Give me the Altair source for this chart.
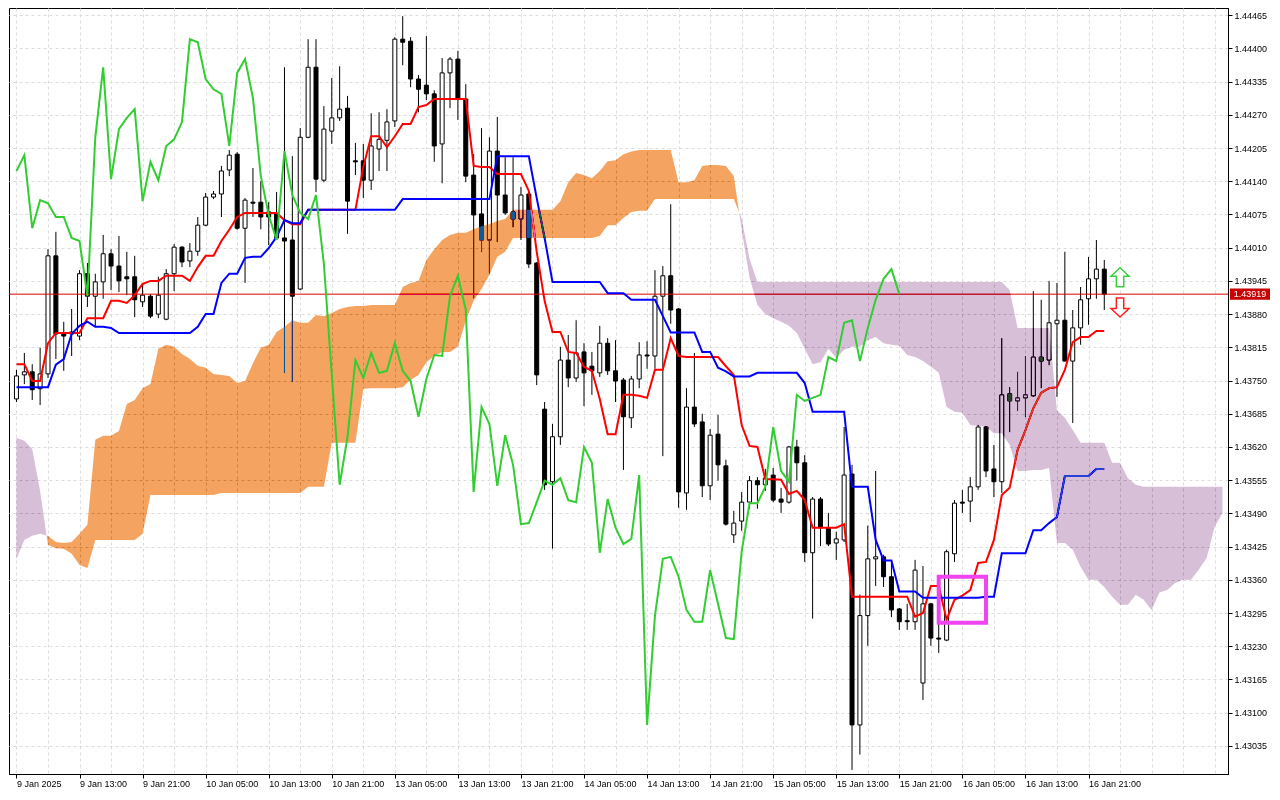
import json
import altair as alt
import pandas as pd

# ---------------- data (H1 bars) ----------------
DATE_LABELS = ["9 Jan 2025", "9 Jan 13:00", "9 Jan 21:00", "10 Jan 05:00", "10 Jan 13:00",
               "10 Jan 21:00", "13 Jan 05:00", "13 Jan 13:00", "13 Jan 21:00", "14 Jan 05:00",
               "14 Jan 13:00", "14 Jan 21:00", "15 Jan 05:00", "15 Jan 13:00", "15 Jan 21:00",
               "16 Jan 05:00", "16 Jan 13:00", "16 Jan 21:00"]

OPEN = [1.43714, 1.43761, 1.43767, 1.43734, 1.43763, 1.43994, 1.43843, 1.43841, 1.43837, 1.43959,
        1.43915, 1.43943, 1.43998, 1.43974, 1.43953, 1.43953, 1.43904, 1.43915, 1.43880, 1.43870,
        1.43959, 1.44011, 1.43984, 1.44003, 1.44054, 1.44109, 1.44115, 1.44162, 1.44193, 1.44048,
        1.44099, 1.44099, 1.44080, 1.44076, 1.44029, 1.44025, 1.43929, 1.44226, 1.44363, 1.44142,
        1.44238, 1.44264, 1.44283, 1.44180, 1.44180, 1.44142, 1.44203, 1.44220, 1.44258, 1.44418,
        1.44414, 1.44340, 1.44328, 1.44311, 1.44213, 1.44352, 1.44379, 1.44301, 1.44152, 1.44076,
        1.44025, 1.44199, 1.44113, 1.44080, 1.44066, 1.44115, 1.43980, 1.43694, 1.43552, 1.43640,
        1.43790, 1.43755, 1.43806, 1.43778, 1.43765, 1.43823, 1.43769, 1.43751, 1.43677, 1.43753,
        1.43800, 1.43798, 1.43915, 1.43955, 1.43890, 1.43530, 1.43698, 1.43669, 1.43544, 1.43645,
        1.43583, 1.43448, 1.43475, 1.43512, 1.43554, 1.43546, 1.43565, 1.43518, 1.43512, 1.43620,
        1.43589, 1.43413, 1.43518, 1.43462, 1.43432, 1.43438, 1.43567, 1.43076, 1.43290, 1.43401,
        1.43405, 1.43366, 1.43303, 1.43280, 1.43278, 1.43158, 1.43313, 1.43246, 1.43242, 1.43411,
        1.43512, 1.43514, 1.43542, 1.43659, 1.43577, 1.43552, 1.43724, 1.43710, 1.43716, 1.43720,
        1.43796, 1.43790, 1.43861, 1.43868, 1.43788, 1.43853, 1.43910, 1.43949, 1.43968]

HIGH = [1.43771, 1.43804, 1.43782, 1.43814, 1.44007, 1.44041, 1.43865, 1.43890, 1.43966, 1.43980,
        1.43959, 1.44035, 1.44007, 1.44033, 1.44002, 1.43994, 1.43941, 1.43919, 1.43953, 1.43968,
        1.44017, 1.44013, 1.44019, 1.44070, 1.44117, 1.44121, 1.44170, 1.44201, 1.44197, 1.44107,
        1.44166, 1.44140, 1.44099, 1.44119, 1.44363, 1.44189, 1.44244, 1.44418, 1.44418, 1.44287,
        1.44342, 1.44365, 1.44307, 1.44215, 1.44213, 1.44273, 1.44275, 1.44281, 1.44422, 1.44463,
        1.44422, 1.44348, 1.44424, 1.44318, 1.44381, 1.44383, 1.44395, 1.44330, 1.44193, 1.44244,
        1.44226, 1.44266, 1.44187, 1.44187, 1.44129, 1.44119, 1.43982, 1.43708, 1.43665, 1.43816,
        1.43839, 1.43868, 1.43823, 1.43806, 1.43857, 1.43833, 1.43829, 1.43755, 1.43759, 1.43825,
        1.43827, 1.43966, 1.43974, 1.44095, 1.43892, 1.43735, 1.43804, 1.43685, 1.43655, 1.43683,
        1.43595, 1.43495, 1.43532, 1.43563, 1.43561, 1.43577, 1.43579, 1.43540, 1.43622, 1.43634,
        1.43604, 1.43522, 1.43522, 1.43491, 1.43454, 1.43659, 1.43585, 1.43331, 1.43466, 1.43573,
        1.43409, 1.43395, 1.43305, 1.43313, 1.43399, 1.43387, 1.43315, 1.43295, 1.43419, 1.43516,
        1.43536, 1.43561, 1.43663, 1.43661, 1.43624, 1.43833, 1.43737, 1.43767, 1.43798, 1.43925,
        1.43908, 1.43945, 1.43941, 1.44002, 1.43888, 1.43933, 1.43992, 1.44025, 1.43986]

LOW = [1.43708, 1.43743, 1.43712, 1.43702, 1.43755, 1.43792, 1.43769, 1.43798, 1.43829, 1.43894,
       1.43855, 1.43910, 1.43927, 1.43923, 1.43917, 1.43874, 1.43894, 1.43872, 1.43872, 1.43868,
       1.43925, 1.43972, 1.43972, 1.43994, 1.44052, 1.44105, 1.44070, 1.44150, 1.44045, 1.43941,
       1.44070, 1.44046, 1.44015, 1.44025, 1.43765, 1.43747, 1.43927, 1.44224, 1.44119, 1.44138,
       1.44213, 1.44258, 1.44037, 1.44152, 1.44107, 1.44123, 1.44160, 1.44160, 1.44246, 1.44367,
       1.44324, 1.44275, 1.44299, 1.44178, 1.44136, 1.44283, 1.44260, 1.44138, 1.43911, 1.44002,
       1.43960, 1.44021, 1.44074, 1.44050, 1.44025, 1.43970, 1.43741, 1.43536, 1.43421, 1.43624,
       1.43737, 1.43747, 1.43700, 1.43722, 1.43757, 1.43761, 1.43708, 1.43575, 1.43657, 1.43735,
       1.43773, 1.43773, 1.43602, 1.43861, 1.43501, 1.43497, 1.43659, 1.43522, 1.43516, 1.43554,
       1.43466, 1.43432, 1.43456, 1.43499, 1.43499, 1.43534, 1.43512, 1.43491, 1.43509, 1.43554,
       1.43395, 1.43284, 1.43426, 1.43426, 1.43399, 1.43434, 1.42988, 1.43018, 1.43231, 1.43348,
       1.43346, 1.43287, 1.43262, 1.43262, 1.43262, 1.43125, 1.43231, 1.43217, 1.43240, 1.43395,
       1.43491, 1.43473, 1.43536, 1.43561, 1.43522, 1.43530, 1.43649, 1.43691, 1.43679, 1.43718,
       1.43735, 1.43780, 1.43718, 1.43788, 1.43667, 1.43820, 1.43859, 1.43910, 1.43888]

CLOSE = [1.43759, 1.43767, 1.43732, 1.43763, 1.43994, 1.43841, 1.43837, 1.43845, 1.43959, 1.43915,
         1.43943, 1.43998, 1.43974, 1.43945, 1.43949, 1.43908, 1.43917, 1.43876, 1.43917, 1.43959,
         1.44011, 1.43982, 1.44003, 1.44054, 1.44109, 1.44115, 1.44160, 1.44191, 1.44048, 1.44103,
         1.44097, 1.44070, 1.44070, 1.44029, 1.44023, 1.43915, 1.44226, 1.44363, 1.44144, 1.44242,
         1.44264, 1.44281, 1.44101, 1.44178, 1.44142, 1.44209, 1.44222, 1.44256, 1.44418, 1.44412,
         1.44340, 1.44320, 1.44311, 1.44209, 1.44352, 1.44379, 1.44303, 1.44150, 1.44074, 1.44025,
         1.44199, 1.44113, 1.44078, 1.44066, 1.44113, 1.43978, 1.43761, 1.43546, 1.43640, 1.43790,
         1.43755, 1.43804, 1.43765, 1.43769, 1.43823, 1.43769, 1.43749, 1.43679, 1.43753, 1.43800,
         1.43798, 1.43915, 1.43955, 1.43888, 1.43532, 1.43698, 1.43665, 1.43544, 1.43643, 1.43585,
         1.43469, 1.43471, 1.43512, 1.43554, 1.43546, 1.43559, 1.43516, 1.43512, 1.43620, 1.43589,
         1.43413, 1.43518, 1.43462, 1.43430, 1.43440, 1.43565, 1.43076, 1.43290, 1.43401, 1.43405,
         1.43366, 1.43301, 1.43278, 1.43278, 1.43379, 1.43313, 1.43246, 1.43244, 1.43415, 1.43510,
         1.43510, 1.43542, 1.43659, 1.43573, 1.43552, 1.43722, 1.43710, 1.43716, 1.43722, 1.43796,
         1.43788, 1.43863, 1.43868, 1.43788, 1.43853, 1.43908, 1.43949, 1.43968, 1.43919]

TENKAN = [1.43782, 1.43782, 1.43749, 1.43749, 1.43823, 1.43843, 1.43843, 1.43843, 1.43843, 1.43872,
          1.43872, 1.43872, 1.43906, 1.43906, 1.43902, 1.43917, 1.43939, 1.43945, 1.43945, 1.43955,
          1.43955, 1.43955, 1.43945, 1.43972, 1.43994, 1.43994, 1.44023, 1.44045, 1.44070, 1.44078,
          1.44078, 1.44078, 1.44078, 1.44078, 1.44064, 1.44056, 1.44056, 1.44084, 1.44084, 1.44084,
          1.44084, 1.44084, 1.44084, 1.44084, 1.44168, 1.44228, 1.44228, 1.44207, 1.44228, 1.44252,
          1.44252, 1.44285, 1.44289, 1.44301, 1.44301, 1.44301, 1.44301, 1.44301, 1.44170, 1.44168,
          1.44168, 1.44154, 1.44154, 1.44154, 1.44154, 1.44121, 1.44002, 1.43906, 1.43845, 1.43845,
          1.43806, 1.43804, 1.43777, 1.43769, 1.43714, 1.43645, 1.43645, 1.43722, 1.43722, 1.43720,
          1.43716, 1.43771, 1.43771, 1.43833, 1.43798, 1.43796, 1.43796, 1.43796, 1.43796, 1.43796,
          1.43778, 1.43761, 1.43663, 1.43622, 1.43620, 1.43557, 1.43557, 1.43556, 1.43528, 1.43534,
          1.43516, 1.43462, 1.43462, 1.43462, 1.43462, 1.43469, 1.43327, 1.43327, 1.43327, 1.43327,
          1.43327, 1.43327, 1.43327, 1.43327, 1.43288, 1.43295, 1.43348, 1.43348, 1.43282, 1.43321,
          1.43329, 1.43340, 1.43393, 1.43395, 1.43438, 1.43526, 1.43540, 1.43614, 1.43653, 1.43696,
          1.43726, 1.43735, 1.43737, 1.43771, 1.43825, 1.43835, 1.43835, 1.43847, 1.43847]

KIJUN = [1.43737, 1.43737, 1.43737, 1.43737, 1.43737, 1.43781, 1.43792, 1.43841, 1.43857, 1.43865,
         1.43855, 1.43855, 1.43853, 1.43843, 1.43843, 1.43843, 1.43843, 1.43843, 1.43843, 1.43843,
         1.43843, 1.43843, 1.43843, 1.43855, 1.43880, 1.43880, 1.43941, 1.43959, 1.43959, 1.43990,
         1.43992, 1.43992, 1.44009, 1.44031, 1.44064, 1.44058, 1.44058, 1.44084, 1.44084, 1.44084,
         1.44084, 1.44084, 1.44084, 1.44084, 1.44084, 1.44084, 1.44084, 1.44084, 1.44084, 1.44105,
         1.44105, 1.44105, 1.44105, 1.44105, 1.44105, 1.44105, 1.44105, 1.44105, 1.44105, 1.44105,
         1.44105, 1.44189, 1.44189, 1.44189, 1.44189, 1.44189, 1.44107, 1.44029, 1.43943, 1.43943,
         1.43943, 1.43943, 1.43943, 1.43943, 1.43943, 1.43921, 1.43921, 1.43921, 1.43908, 1.43908,
         1.43908, 1.43908, 1.43876, 1.43844, 1.43844, 1.43844, 1.43844, 1.43806, 1.43806, 1.43775,
         1.43768, 1.43758, 1.43758, 1.43758, 1.43765, 1.43765, 1.43765, 1.43765, 1.43765, 1.43765,
         1.43745, 1.43689, 1.43689, 1.43689, 1.43689, 1.43689, 1.43542, 1.43542, 1.43542, 1.43438,
         1.43398, 1.43398, 1.43337, 1.43337, 1.43337, 1.43325, 1.43325, 1.43325, 1.43325, 1.43325,
         1.43325, 1.43325, 1.43325, 1.43327, 1.43327, 1.43412, 1.43412, 1.43412, 1.43412, 1.43457,
         1.43457, 1.43471, 1.43483, 1.43563, 1.43563, 1.43563, 1.43563, 1.43577, 1.43577]

SENKOU_A = [1.43401, 1.43438, 1.43446, 1.43450, 1.43446, 1.43434, 1.43432, 1.43434, 1.43450, 1.43468,
            1.43634, 1.43642, 1.43642, 1.43651, 1.43704, 1.43712, 1.43735, 1.43743, 1.43812, 1.43820,
            1.43816, 1.43802, 1.43792, 1.43779, 1.43775, 1.43763, 1.43761, 1.43759, 1.43745, 1.43749,
            1.43784, 1.43814, 1.43820, 1.43845, 1.43855, 1.43868, 1.43863, 1.43863, 1.43878, 1.43876,
            1.43882, 1.43890, 1.43894, 1.43896, 1.43896, 1.43898, 1.43898, 1.43898, 1.43898, 1.43933,
            1.43941, 1.43945, 1.43986, 1.44007, 1.44025, 1.44035, 1.44039, 1.44039, 1.44046, 1.44052,
            1.44056, 1.44062, 1.44066, 1.44084, 1.44084, 1.44084, 1.44084, 1.44084, 1.44084, 1.44101,
            1.44138, 1.44156, 1.44152, 1.44146, 1.44160, 1.44179, 1.44181, 1.44193, 1.44198, 1.44201,
            1.44201, 1.44201, 1.44201, 1.44201, 1.44138, 1.44138, 1.44142, 1.44170, 1.44172, 1.44172,
            1.44170, 1.44150, 1.44045, 1.43951, 1.43898, 1.43880, 1.43872, 1.43865, 1.43857, 1.43843,
            1.43812, 1.43782, 1.43786, 1.43812, 1.43794, 1.43810, 1.43816, 1.43816, 1.43829, 1.43835,
            1.43823, 1.43820, 1.43818, 1.43800, 1.43796, 1.43788, 1.43777, 1.43765, 1.43698, 1.43689,
            1.43687, 1.43663, 1.43661, 1.43659, 1.43647, 1.43647, 1.43624, 1.43573, 1.43573, 1.43575,
            1.43575, 1.43579, 1.43432, 1.43432, 1.43419, 1.43385, 1.43360, 1.43360, 1.43346, 1.43327,
            1.43311, 1.43311, 1.43331, 1.43321, 1.43301, 1.43335, 1.43340, 1.43354, 1.43360, 1.43360,
            1.43380, 1.43403, 1.43464, 1.43491]

SENKOU_B = [1.43638, 1.43632, 1.43616, 1.43534, 1.43428, 1.43422, 1.43421, 1.43411, 1.43389, 1.43383,
            1.43438, 1.43438, 1.43438, 1.43438, 1.43438, 1.43438, 1.43450, 1.43526, 1.43526, 1.43526,
            1.43526, 1.43526, 1.43526, 1.43526, 1.43526, 1.43526, 1.43530, 1.43530, 1.43530, 1.43530,
            1.43530, 1.43530, 1.43530, 1.43530, 1.43530, 1.43530, 1.43530, 1.43542, 1.43542, 1.43542,
            1.43628, 1.43628, 1.43628, 1.43628, 1.43734, 1.43735, 1.43735, 1.43735, 1.43735, 1.43737,
            1.43751, 1.43761, 1.43786, 1.43798, 1.43806, 1.43806, 1.43816, 1.43867, 1.43906, 1.43929,
            1.43957, 1.43992, 1.44002, 1.44029, 1.44029, 1.44029, 1.44029, 1.44029, 1.44029, 1.44029,
            1.44029, 1.44029, 1.44029, 1.44029, 1.44033, 1.44054, 1.44054, 1.44068, 1.44080, 1.44082,
            1.44082, 1.44105, 1.44105, 1.44105, 1.44105, 1.44105, 1.44105, 1.44105, 1.44105, 1.44105,
            1.44105, 1.44105, 1.44067, 1.43988, 1.43943, 1.43943, 1.43943, 1.43943, 1.43943, 1.43943,
            1.43943, 1.43943, 1.43943, 1.43943, 1.43943, 1.43943, 1.43943, 1.43943, 1.43943, 1.43943,
            1.43943, 1.43943, 1.43943, 1.43943, 1.43943, 1.43943, 1.43943, 1.43943, 1.43943, 1.43943,
            1.43943, 1.43943, 1.43943, 1.43943, 1.43943, 1.43943, 1.43927, 1.43853, 1.43853, 1.43853,
            1.43853, 1.43853, 1.43692, 1.43677, 1.43653, 1.43628, 1.43628, 1.43628, 1.43628, 1.43589,
            1.43589, 1.43559, 1.43546, 1.43542, 1.43542, 1.43542, 1.43542, 1.43542, 1.43542, 1.43542,
            1.43542, 1.43542, 1.43542, 1.43542]

CHIKOU_SHIFT = 26
CURRENT_PRICE = 1.43919
Y_TICKS = [1.43035, 1.43100, 1.43165, 1.43230, 1.43295, 1.43360, 1.43425, 1.43490, 1.43555,
           1.43620, 1.43685, 1.43750, 1.43815, 1.43880, 1.43945, 1.44010, 1.44075, 1.44140,
           1.44205, 1.44270, 1.44335, 1.44400, 1.44465]
ARROW_BAR = 140
ARROW_UP_PRICE = 1.43952
ARROW_DOWN_PRICE = 1.43893
BOX = dict(x1=117.0, x2=123.0, y1=1.43276, y2=1.43366)

X_DOMAIN = [-0.3125, 153.0625]
Y_DOMAIN = [1.42980, 1.44479]
W, H = 1219, 766
FONT = "Liberation Sans"

# ---------------- frames ----------------
n = len(OPEN)
candles = pd.DataFrame({"bar": list(range(n)), "open": OPEN, "high": HIGH,
                        "low": LOW, "close": CLOSE})
candles["dir"] = ["up" if c >= o else "down" for o, c in zip(OPEN, CLOSE)]

lines = pd.DataFrame({"bar": list(range(n)), "tenkan": TENKAN, "kijun": KIJUN})
chikou = pd.DataFrame({"bar": [i - CHIKOU_SHIFT for i in range(CHIKOU_SHIFT, n)],
                       "price": CLOSE[CHIKOU_SHIFT:]})

# cloud polygons, split where span A and span B cross
rows, seg, prev = [], 0, None
for i, (a, b) in enumerate(zip(SENKOU_A, SENKOU_B)):
    kind = "bull" if a >= b else "bear"
    if prev is not None and kind != prev:
        a0, b0 = SENKOU_A[i - 1], SENKOU_B[i - 1]
        t = (a0 - b0) / ((a0 - b0) - (a - b))
        xc, yc = i - 1 + t, a0 + t * (a - a0)
        rows.append(dict(bar=xc, top=yc, bot=yc, seg=seg, kind=prev))
        seg += 1
        rows.append(dict(bar=xc, top=yc, bot=yc, seg=seg, kind=kind))
    rows.append(dict(bar=i, top=a, bot=b, seg=seg, kind=kind))
    prev = kind
cloud = pd.DataFrame(rows)

XS = alt.Scale(domain=X_DOMAIN, nice=False, zero=False)
YS = alt.Scale(domain=Y_DOMAIN, nice=False, zero=False)

label_test = "datum.value % 8 == 0 && datum.value <= 136"
label_expr = "(" + label_test + ") ? " + json.dumps(DATE_LABELS) + "[datum.value / 8] : ''"
x_axis = alt.Axis(values=list(range(0, 153, 4)), labelExpr=label_expr, title=None,
                  grid=True, tickSize=4, labelAlign="left", labelBaseline="top",
                  labelPadding=1, labelFlush=False, labelOverlap=False,
                  tickOpacity={"condition": {"test": label_test, "value": 1}, "value": 0})
y_axis = alt.Axis(values=Y_TICKS, format=".5f", orient="right", title=None, grid=True,
                  tickSize=4, labelPadding=2, labelFlush=False, labelOverlap=False,
                  labelSeparation=0)


def X(f="bar"):
    return alt.X(f"{f}:Q", scale=XS, title=None, axis=x_axis)


def Y(f):
    return alt.Y(f"{f}:Q", scale=YS, title=None, axis=y_axis, stack=None)


wicks = alt.Chart(candles).mark_rule(color="black", strokeWidth=1).encode(
    x=X(), y=Y("low"), y2="high:Q")

bodies = alt.Chart(candles).mark_bar(size=4, stroke="black", strokeWidth=1).encode(
    x=X(), y=Y("open"), y2="close:Q",
    fill=alt.Fill("dir:N", scale=alt.Scale(domain=["up", "down"], range=["white", "black"]),
                  legend=None))

price_line = alt.Chart(pd.DataFrame({"p": [CURRENT_PRICE]})).mark_rule(
    color="#e00000", strokeWidth=1).encode(y=Y("p"))

tenkan = alt.Chart(lines).mark_line(color="#ff0000", strokeWidth=2).encode(x=X(), y=Y("tenkan"))
kijun = alt.Chart(lines).mark_line(color="#0000ff", strokeWidth=2).encode(x=X(), y=Y("kijun"))

kumo = alt.Chart(cloud).mark_area(blend="difference", opacity=1).encode(
    x=X(), y=Y("top"), y2="bot:Q",
    detail="seg:N",
    color=alt.Color("kind:N", scale=alt.Scale(domain=["bull", "bear"],
                                              range=["#0b5b9f", "#274027"]), legend=None))

chikou_line = alt.Chart(chikou).mark_line(color="#32cd32", strokeWidth=2).encode(
    x=X(), y=Y("price"))

box = alt.Chart(pd.DataFrame([BOX])).mark_rect(
    fillOpacity=0, stroke="#f044f0", strokeWidth=4).encode(
    x=X("x1"), x2="x2:Q", y=Y("y1"), y2="y2:Q")

UP = "M0,-1 L0.95,-0.12 L0.39,-0.12 L0.39,1 L-0.39,1 L-0.39,-0.12 L-0.95,-0.12 Z"
DOWN = "M0,1 L0.95,0.12 L0.39,0.12 L0.39,-1 L-0.39,-1 L-0.39,0.12 L-0.95,0.12 Z"
arrow_up = alt.Chart(pd.DataFrame({"bar": [ARROW_BAR], "p": [ARROW_UP_PRICE]})).mark_point(
    shape=UP, size=361, filled=True, fill="white", stroke="#3ad13a", strokeWidth=1.5,
    opacity=1).encode(x=X(), y=Y("p"))
arrow_dn = alt.Chart(pd.DataFrame({"bar": [ARROW_BAR], "p": [ARROW_DOWN_PRICE]})).mark_point(
    shape=DOWN, size=361, filled=True, fill="white", stroke="#ff2020", strokeWidth=1.5,
    opacity=1).encode(x=X(), y=Y("p"))

lbl = pd.DataFrame({"p": [CURRENT_PRICE], "t": [f"{CURRENT_PRICE:.5f}"]})
label_bg = alt.Chart(lbl).mark_point(
    shape="M-1,-0.28 L1,-0.28 L1,0.28 L-1,0.28 Z", size=1600, filled=True,
    fill="#c80000", strokeWidth=0, opacity=1).encode(x=alt.value(W + 22), y=Y("p"))
label_tx = alt.Chart(lbl).mark_text(color="white", font=FONT, fontSize=9, align="center",
                                    baseline="middle").encode(
    x=alt.value(W + 22), y=Y("p"), text="t:N")

chart = alt.layer(wicks, bodies, price_line, tenkan, kijun, kumo, chikou_line, box,
                  arrow_up, arrow_dn, label_bg, label_tx).properties(
    width=W, height=H, padding=0, background="white"
).configure_view(stroke="black", strokeWidth=1, fill="white").configure_axis(
    labelFont=FONT, labelFontSize=9, labelColor="black", tickColor="black",
    domainColor="black", gridColor="#dcdcdc", gridDash=[3, 3], gridWidth=1,
    labelOverlap=False)

chart.save("out.html", embed_options={"renderer": "svg", "actions": False})
